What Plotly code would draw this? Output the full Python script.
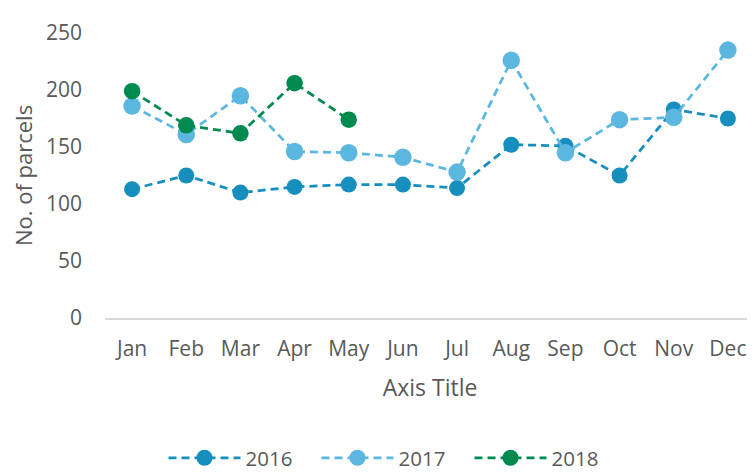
import plotly.graph_objects as go

months = ["Jan", "Feb", "Mar", "Apr", "May", "Jun", "Jul", "Aug", "Sep", "Oct", "Nov", "Dec"]
y2016 = [113, 125, 110, 115, 117, 117, 114, 152, 151, 125, 183, 175]
y2017 = [186, 161, 195, 146, 145, 141, 128, 226, 145, 174, 176, 235]
y2018 = [199, 169, 162, 206, 174]
yticks = [0, 50, 100, 150, 200, 250]

FONT = "Open Sans"
GREY = "#595959"

fig = go.Figure()
series = [
    ("2016", months, y2016, "#168FBE", 16),
    ("2017", months, y2017, "#5BB7E0", 17.5),
    ("2018", months[:len(y2018)], y2018, "#008A4F", 16.5),
]
for name, x, y, col, ms in series:
    fig.add_trace(go.Scatter(
        x=x, y=y, name=name, mode="lines+markers",
        line=dict(color=col, width=2.75, dash="8px,5px"),
        marker=dict(color=col, size=ms),
    ))

# page body has an 8px margin; figure sized to fill the rest of the 755x473 window
fig.update_layout(
    width=747, height=465,
    margin=dict(l=97, r=0, t=25, b=155, autoexpand=False),
    paper_bgcolor="white", plot_bgcolor="white",
    font=dict(family=FONT, color=GREY, size=21),
    showlegend=True,
    legend=dict(orientation="h", x=0.09, xanchor="left", y=-0.491, yanchor="middle",
                font=dict(size=20.5, color=GREY), itemwidth=72,
                entrywidth=66, entrywidthmode="pixels"),
    xaxis=dict(
        range=[-0.5, 11.5], showgrid=False, zeroline=False, automargin=False,
        showline=True, linecolor="#D9D9D9", linewidth=1.5,
        ticks="", tickfont=dict(size=21, color=GREY), ticklabelstandoff=11,
        title=dict(text="Axis Title", font=dict(size=23, color=GREY), standoff=19),
    ),
    yaxis=dict(
        range=[0, 250], tickvals=yticks, showgrid=False, zeroline=False, automargin=False,
        showline=False, ticks="", tickfont=dict(size=21, color=GREY),
        ticklabelstandoff=22,
        title=dict(text="No. of parcels", font=dict(size=22, color=GREY), standoff=7),
    ),
)

fig.write_html("out.html")
